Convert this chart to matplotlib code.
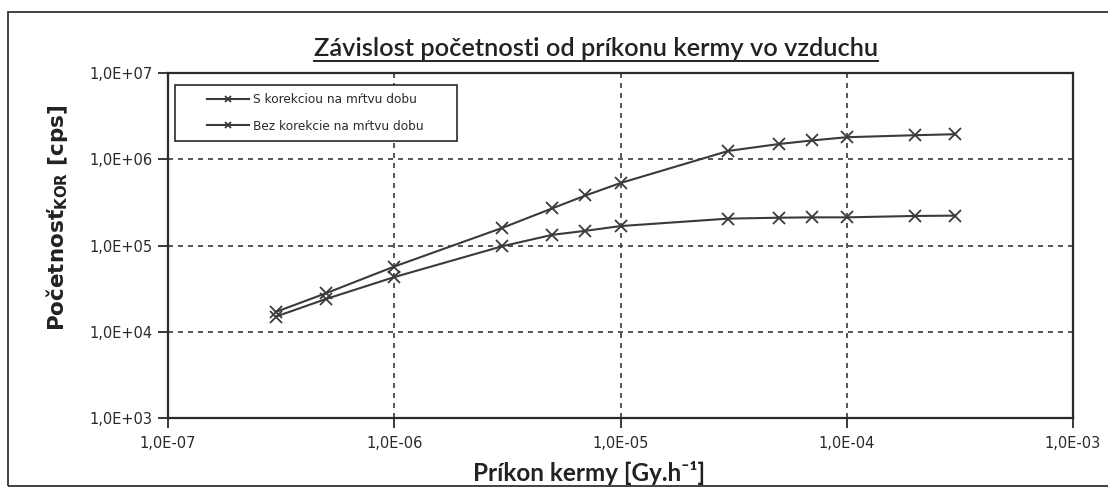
import matplotlib
matplotlib.use("Agg")
import matplotlib.pyplot as plt
from matplotlib.lines import Line2D
from matplotlib.patches import Rectangle
import matplotlib.ticker as mticker

# ---- data ----
kerma_rate = [3e-7, 5e-7, 1e-6, 3e-6, 5e-6, 7e-6, 1e-5, 3e-5, 5e-5, 7e-5, 1e-4, 2e-4, 3e-4]
with_corr = [1.7e4, 2.8e4, 5.7e4, 1.6e5, 2.7e5, 3.8e5, 5.3e5, 1.25e6, 1.5e6, 1.65e6, 1.8e6, 1.9e6, 1.95e6]
without_corr = [1.5e4, 2.4e4, 4.3e4, 9.8e4, 1.33e5, 1.48e5, 1.68e5, 2.05e5, 2.1e5, 2.12e5, 2.12e5, 2.2e5, 2.22e5]
series_labels = ["S korekciou na mŕtvu dobu", "Bez korekcie na mŕtvu dobu"]
x_ticks = [1e-7, 1e-6, 1e-5, 1e-4, 1e-3]
y_ticks = [1e3, 1e4, 1e5, 1e6, 1e7]

title = "Závislost početnosti od príkonu kermy vo vzduchu"
xlabel = "Príkon kermy [Gy.h⁻¹]"
ylabel = r"Početnosť$_{\mathregular{KOR}}$ [cps]"

W, H = 1108, 488
fig = plt.figure(figsize=(W / 100, H / 100), dpi=100)
fig.patch.set_facecolor("white")

def fx(px):
    return px / W

def fy(py):
    return 1 - py / H

# outer chart frame
fig.add_artist(Rectangle((fx(8), fy(486)), (1120 - 8) / W, (486 - 12) / H,
                         transform=fig.transFigure, fill=False, edgecolor="#333333",
                         linewidth=1.3, clip_on=False))

ax = fig.add_axes([fx(168), fy(418), (1073 - 168) / W, (418 - 73) / H])
ax.set_xscale("log")
ax.set_yscale("log")
ax.set_xlim(1e-7, 1e-3)
ax.set_ylim(1e3, 1e7)

line_kw = dict(color="#3a3a3a", linewidth=1.5, marker="x", markersize=9,
               markeredgewidth=1.3, markeredgecolor="#3a3a3a")
ax.plot(kerma_rate, with_corr, label=series_labels[0], **line_kw)
ax.plot(kerma_rate, without_corr, label=series_labels[1], **line_kw)

ax.xaxis.set_major_locator(mticker.FixedLocator(x_ticks))
ax.yaxis.set_major_locator(mticker.FixedLocator(y_ticks))
ax.xaxis.set_minor_locator(mticker.NullLocator())
ax.yaxis.set_minor_locator(mticker.NullLocator())

def fmt(v, pos):
    return f"{v:.1E}".replace(".", ",")

ax.xaxis.set_major_formatter(mticker.FuncFormatter(fmt))
ax.yaxis.set_major_formatter(mticker.FuncFormatter(fmt))

ax.grid(True, which="major", color="#3a3a3a", linestyle=(0, (3, 3)), linewidth=1.2)
for s in ax.spines.values():
    s.set_color("#2a2a2a")
    s.set_linewidth(1.6)
ax.tick_params(axis="both", direction="out", length=7, width=1.3, color="#2a2a2a",
               labelsize=10.5, labelcolor="#2a2a2a")
ax.tick_params(axis="x", pad=6)
ax.tick_params(axis="y", pad=4)

# legend: text/handles without frame, frame drawn as in the reference (wide padding)
leg = fig.legend(loc="center left", bbox_to_anchor=(fx(207), fy(113)),
                 frameon=False, fontsize=8.7, handlelength=3.5,
                 markerscale=0.55, borderpad=0, labelspacing=1.1, handletextpad=0.3,
                 borderaxespad=0, handles=ax.get_lines(), labels=series_labels)
for t in leg.get_texts():
    t.set_color("#2a2a2a")
fig.add_artist(Rectangle((fx(175), fy(141)), (457 - 175) / W, (141 - 85) / H,
                         transform=fig.transFigure, facecolor="white", edgecolor="#2a2a2a",
                         linewidth=1.2, zorder=4))
leg.set_zorder(5)

ax.set_xlabel(xlabel, fontsize=17.5, fontweight="bold", family=["Lato", "DejaVu Sans"],
              color="#222222")
ax.xaxis.set_label_coords((589 - 168) / (1073 - 168), -(473 - 418) / (418 - 73))
ax.xaxis.label.set_va("center")
ax.set_ylabel(ylabel, fontsize=15.5, fontweight="bold", color="#222222")
ax.yaxis.set_label_coords(-(168 - 57) / (1073 - 168), (418 - 218) / (418 - 73))
ax.yaxis.label.set_va("center")

t = fig.text(fx(596), fy(48), title, ha="center", va="center", fontsize=18.3,
             family="Lato", fontweight="semibold", color="#222222")

# underline title
fig.canvas.draw()
bb = t.get_window_extent(renderer=fig.canvas.get_renderer())
yline = (bb.y0 - 1) / H
fig.add_artist(Line2D([bb.x0 / W, bb.x1 / W], [yline, yline], transform=fig.transFigure,
                      color="#222222", linewidth=1.4))

fig.savefig("out.png", dpi=100, facecolor="white")
